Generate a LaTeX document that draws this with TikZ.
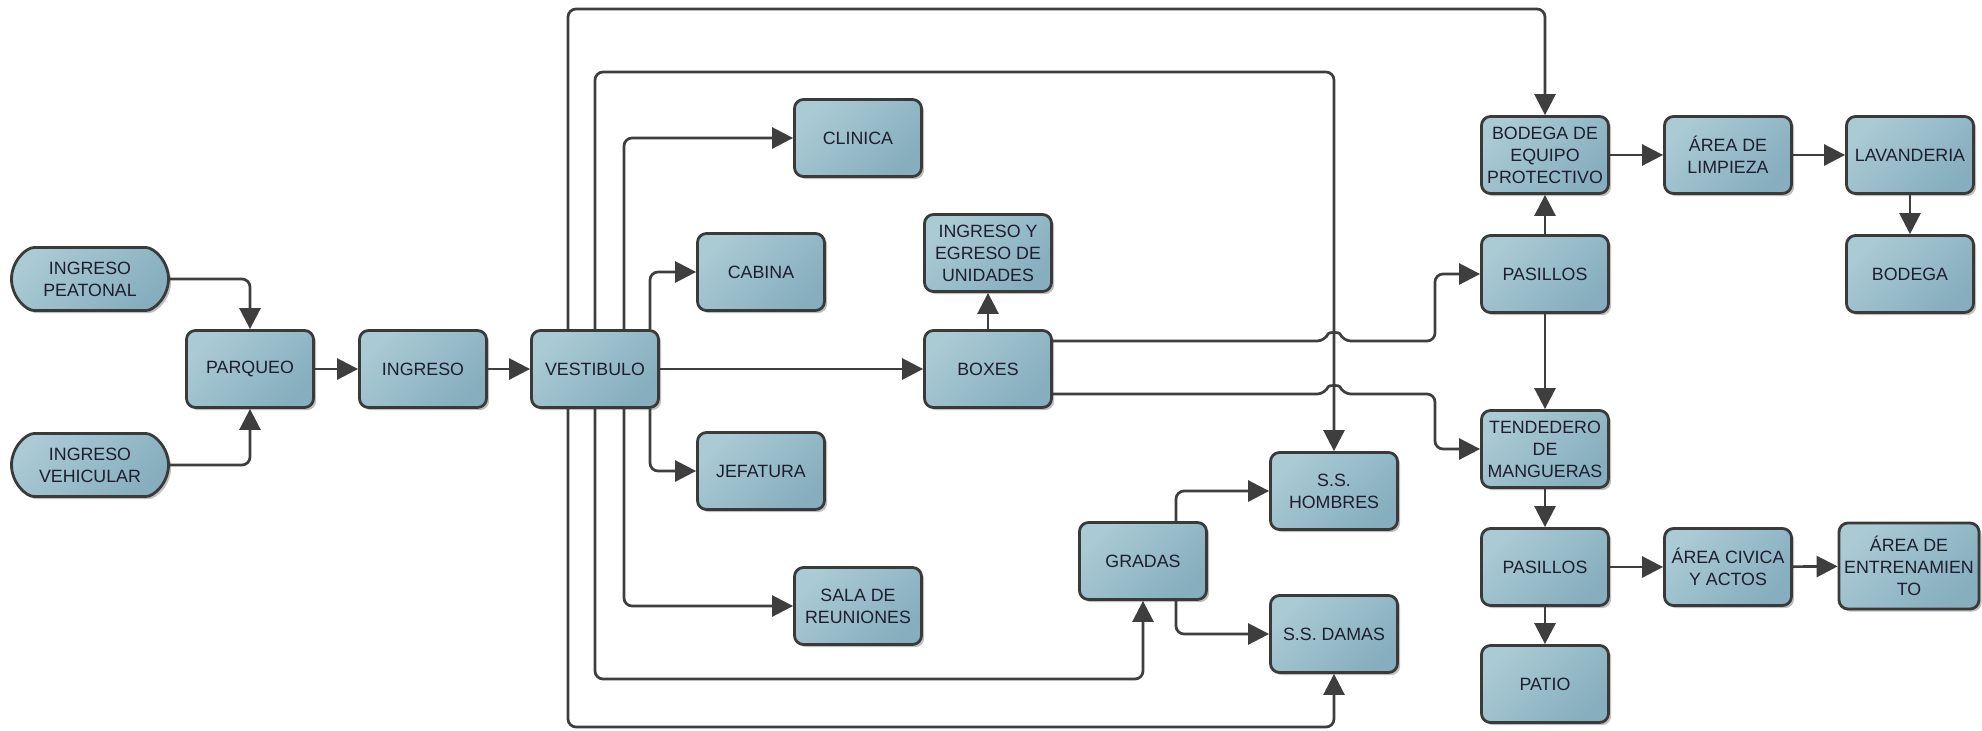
\documentclass[tikz,border=0pt]{standalone}
\usepackage{fontspec}
\setmainfont{Liberation Sans}
\usetikzlibrary{arrows.meta,shapes.misc,shadows,calc}
\definecolor{boxlight}{HTML}{AACAD4}
\definecolor{boxdark}{HTML}{86AEBE}
\definecolor{edge}{HTML}{3A3A3A}
\definecolor{wire}{HTML}{3E3E3E}
\definecolor{ink}{HTML}{1E1E2E}
\begin{document}
\begin{tikzpicture}[x=0.5pt,y=-0.5pt,
  area/.style={draw=edge,line width=1.4pt,rounded corners=4.5pt,
    top color=boxlight,bottom color=boxdark,shading angle=45,
    drop shadow={shadow xshift=1.3pt,shadow yshift=-1.3pt,opacity=0.25,fill=black},
    minimum width=63.5pt,minimum height=38.5pt,inner sep=1pt,align=center,
    text=ink,font=\fontsize{8.9}{11}\selectfont},
  pill/.style={area,rounded rectangle,minimum width=80.5pt,minimum height=31.5pt},
  wide/.style={area,minimum width=70pt,minimum height=43pt},
  conn/.style={draw=wire,line width=1.35pt,rounded corners=4pt,
    -{Triangle[length=10.5pt,width=10.5pt]}}]
\useasboundingbox[fill=white] (0,0) rectangle (1982,730);

% entrances and lobby chain
\node[pill] (peat) at (90,279) {INGRESO\\PEATONAL};
\node[pill] (veh) at (90,465) {INGRESO\\VEHICULAR};
\node[area] (parq) at (250,369) {PARQUEO};
\node[area] (ing) at (423,369) {INGRESO};
\node[area] (vest) at (595,369) {VESTIBULO};

% rooms served from the lobby
\node[area] (clin) at (858,138) {CLINICA};
\node[area] (cab) at (761,272) {CABINA};
\node[area] (ieu) at (988,253) {INGRESO Y\\EGRESO DE\\UNIDADES};
\node[area] (boxes) at (988,369) {BOXES};
\node[area] (jef) at (761,471) {JEFATURA};
\node[area] (sala) at (858,606) {SALA DE\\REUNIONES};
\node[area] (grad) at (1143,561) {GRADAS};
\node[area] (hom) at (1334,491) {S.S.\\HOMBRES};
\node[area] (dam) at (1334,634) {S.S. DAMAS};

% service wing
\node[area] (bod) at (1545,155) {BODEGA DE\\EQUIPO\\PROTECTIVO};
\node[area] (lim) at (1728,155) {ÁREA DE\\LIMPIEZA};
\node[area] (lav) at (1910,155) {LAVANDERIA};
\node[area] (bdg) at (1910,274) {BODEGA};
\node[area] (pas1) at (1545,274) {PASILLOS};
\node[area] (tend) at (1545,449) {TENDEDERO\\DE\\MANGUERAS};
\node[area] (pas2) at (1545,567) {PASILLOS};
\node[area] (patio) at (1545,684) {PATIO};
\node[area] (civ) at (1728,567) {ÁREA CIVICA\\Y ACTOS};
\node[wide] (ent) at (1909,566) {ÁREA DE\\ENTRENAMIEN\\TO};

% routing rails for the long connectors
\coordinate (vx1) at (568,0);
\coordinate (vx2) at (595,0);
\coordinate (vx3) at (624,0);
\coordinate (vx4) at (650,0);
\coordinate (topA) at (0,9);
\coordinate (topB) at (0,72);
\coordinate (botA) at (0,679);
\coordinate (botB) at (0,727);
\coordinate (bend) at (1435,0);
\coordinate (hopU) at (1334,341);
\coordinate (hopL) at (1334,394);

% entrance connectors
\draw[conn] (peat.east) -| (parq.north);
\draw[conn] (veh.east) -| (parq.south);
\draw[conn] (parq) -- (ing);
\draw[conn] (ing) -- (vest);
\draw[conn] (vest) -- (boxes);

% lobby branches
\draw[conn] (vest.north -| vx1) |- (topA -| bod.north) -- (bod.north);
\draw[conn] (vest.north -| vx2) |- (topB -| hom.north) -- (hom.north);
\draw[conn] (vest.north -| vx3) |- (clin.west);
\draw[conn] (vest.north -| vx4) |- (cab.west);
\draw[conn] (vest.south -| vx4) |- (jef.west);
\draw[conn] (vest.south -| vx3) |- (sala.west);
\draw[conn] (vest.south -| vx2) |- (botA -| grad.south) -- (grad.south);
\draw[conn] (vest.south -| vx1) |- (botB -| dam.south) -- (dam.south);

% boxes
\draw[conn] (boxes.north) -- (ieu.south);
\draw[conn] (boxes.east |- hopU) -- ($(hopU)+(-9,0)$)
  .. controls ($(hopU)+(-5,-9)$) and ($(hopU)+(5,-9)$) .. ($(hopU)+(9,0)$)
  -- (hopU -| bend) |- (pas1.west);
\draw[conn] (boxes.east |- hopL) -- ($(hopL)+(-9,0)$)
  .. controls ($(hopL)+(-5,-9)$) and ($(hopL)+(5,-9)$) .. ($(hopL)+(9,0)$)
  -- (hopL -| bend) |- (tend.west);

% stands to restrooms
\draw[conn] ($(grad.north)+(33,0)$) |- (hom.west);
\draw[conn] ($(grad.south)+(33,0)$) |- (dam.west);

% service wing flow
\draw[conn] (pas1) -- (bod);
\draw[conn] (bod) -- (lim);
\draw[conn] (lim) -- (lav);
\draw[conn] (lav) -- (bdg);
\draw[conn] (pas1) -- (tend);
\draw[conn] (tend) -- (pas2);
\draw[conn] (pas2) -- (civ);
\draw[conn] (civ) -- (ent);
\draw[conn] (pas2) -- (patio);
\end{tikzpicture}
\end{document}
